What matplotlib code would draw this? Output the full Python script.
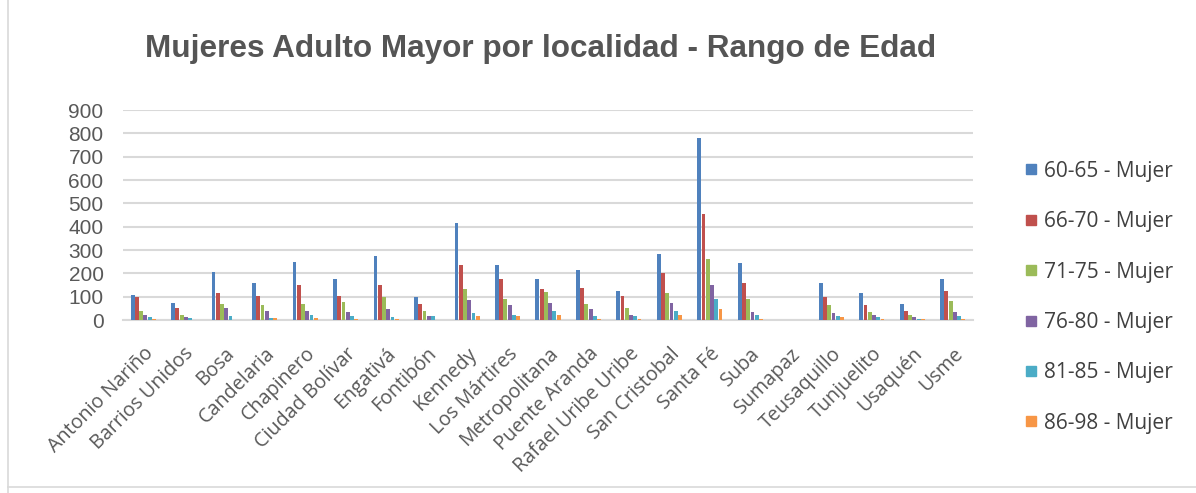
import matplotlib
matplotlib.use("Agg")
import matplotlib.pyplot as plt
import numpy as np
from matplotlib.lines import Line2D

categories = ["Antonio Nariño", "Barrios Unidos", "Bosa", "Candelaria", "Chapinero",
              "Ciudad Bolívar", "Engativá", "Fontibón", "Kennedy", "Los Mártires",
              "Metropolitana", "Puente Aranda", "Rafael Uribe Uribe", "San Cristobal",
              "Santa Fé", "Suba", "Sumapaz", "Teusaquillo", "Tunjuelito", "Usaquén", "Usme"]
series_names = ["60-65 - Mujer", "66-70 - Mujer", "71-75 - Mujer",
                "76-80 - Mujer", "81-85 - Mujer", "86-98 - Mujer"]
s60_65 = [107, 74, 204, 160, 250, 176, 274, 97, 414, 234, 176, 216, 126, 284, 779, 244, 0, 160, 114, 69, 176]
s66_70 = [97, 50, 114, 103, 149, 103, 149, 69, 234, 176, 131, 137, 103, 200, 454, 160, 0, 97, 63, 40, 126]
s71_75 = [40, 21, 69, 63, 69, 76, 97, 40, 131, 91, 119, 69, 51, 114, 261, 91, 0, 63, 34, 21, 80]
s76_80 = [21, 11, 50, 40, 40, 34, 46, 16, 86, 63, 74, 46, 23, 74, 149, 34, 0, 29, 23, 11, 34]
s81_85 = [14, 8, 17, 10, 21, 17, 14, 16, 29, 21, 40, 17, 16, 40, 91, 23, 0, 17, 11, 6, 17]
s86_98 = [4, 2, 2, 8, 7, 3, 3, 2, 17, 17, 21, 3, 3, 23, 46, 3, 0, 11, 4, 3, 3]
yticks = [0, 100, 200, 300, 400, 500, 600, 700, 800, 900]

series = [s60_65, s66_70, s71_75, s76_80, s81_85, s86_98]
colors = ["#4F81BD", "#C0504D", "#9BBB59", "#8064A2", "#4BACC6", "#F79646"]

fig = plt.figure(figsize=(11.96, 4.93), dpi=100)
ax = fig.add_axes([123/1196, (493-320)/493, (973-123)/1196, 210/493])

n = len(series)
bw = 0.105
x = np.arange(len(categories))
for i, (vals, c) in enumerate(zip(series, colors)):
    ax.bar(x + (i - (n-1)/2) * bw, vals, width=bw*0.9, color=c, zorder=3)

ax.set_xlim(-0.5, len(categories) - 0.5)
ax.set_ylim(0, 900)
ax.set_yticks(yticks)
ax.yaxis.grid(True, color="#D9D9D9", linewidth=1.5, zorder=0)
for sp in ["top", "right", "left"]:
    ax.spines[sp].set_visible(False)
ax.spines["bottom"].set_color("#D9D9D9")
ax.spines["bottom"].set_linewidth(1.5)
ax.tick_params(axis="both", length=0)
ax.tick_params(axis="y", labelsize=15, labelcolor="#595959", pad=14)
for lbl in ax.get_yticklabels():
    lbl.set_fontfamily("Liberation Sans")
ax.set_xticks(x)
ax.set_xticklabels(categories, rotation=45, ha="right", rotation_mode="anchor",
                   fontsize=14.2, color="#595959", family="Open Sans")
ax.tick_params(axis="x", pad=17)

fig.text(541/1196, 1 - 57/493, "Mujeres Adulto Mayor por localidad - Rango de Edad",
         ha="center", va="baseline", fontsize=22.7, fontweight="bold",
         color="#555555", family="Liberation Sans")

handles = [Line2D([0], [0], marker="s", linestyle="", markersize=7,
                  markerfacecolor=c, markeredgecolor=c) for c in colors]
leg = fig.legend(handles, series_names, loc="upper left",
                 bbox_to_anchor=(1002/1196, 1 - 142/493), frameon=False,
                 labelspacing=1.41, handletextpad=0.1, handlelength=1.0,
                 prop={"family": "Open Sans", "size": 15})
for t in leg.get_texts():
    t.set_color("#404040")

# frame border
fig.add_artist(Line2D([8/1196, 8/1196], [0, 1], transform=fig.transFigure,
                      color="#D9D9D9", linewidth=1.2))
fig.add_artist(Line2D([8/1196, 1], [6/493, 6/493], transform=fig.transFigure,
                      color="#D9D9D9", linewidth=1.2))

fig.savefig("out.png", dpi=100, facecolor="white")
